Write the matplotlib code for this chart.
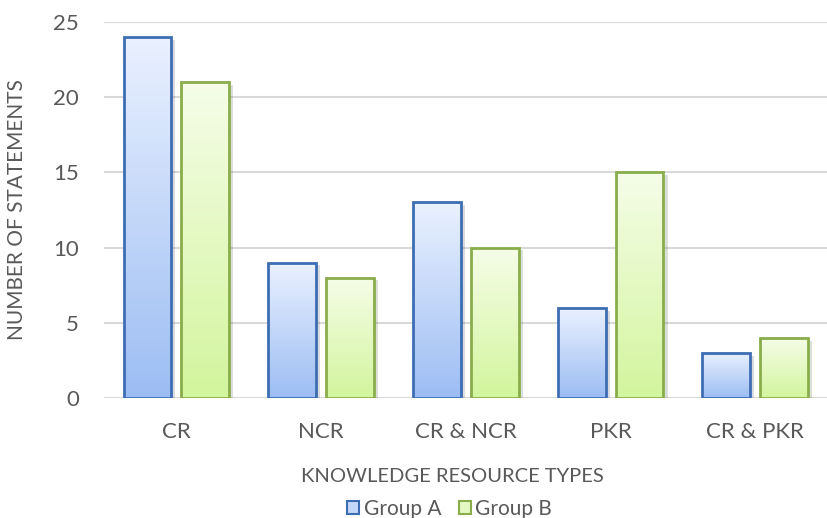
import numpy as np
from matplotlib import pyplot as plt
from matplotlib import patheffects as pe
from matplotlib.patches import Patch
from matplotlib.colors import LinearSegmentedColormap

categories = ["CR", "NCR", "CR & NCR", "PKR", "CR & PKR"]
group_a = [24, 9, 13, 6, 3]
group_b = [21, 8, 10, 15, 4]
series_names = ["Group A", "Group B"]

plt.rcParams['font.family'] = ['Lato', 'DejaVu Sans']

fig = plt.figure(figsize=(8.28, 5.18), dpi=100)
ax = fig.add_axes([0.1256, 0.2317, 0.874, 0.7258])

x = np.arange(len(categories))
w = 0.33
off = 0.2

styles = [
    # top colour, bottom colour, edge
    ("#eaf1ff", "#9cbdf3", "#3d6db3"),
    ("#f5fde8", "#d3f59d", "#8aad4c"),
]

grad = np.linspace(0, 1, 256).reshape(-1, 1)
for vals, (top, bot, edge), dx in zip([group_a, group_b], styles, [-off, off]):
    cmap = LinearSegmentedColormap.from_list("g", [top, bot])
    bars = ax.bar(x + dx, vals, w, color=bot, zorder=2,
                  path_effects=[pe.SimplePatchShadow(offset=(3, -2), alpha=0.18), pe.Normal()])
    for b in bars:
        x0, y0 = b.get_x(), b.get_y()
        im = ax.imshow(grad, cmap=cmap, aspect='auto', zorder=3,
                       extent=[x0, x0 + b.get_width(), y0, y0 + b.get_height()],
                       interpolation='bilinear')
        im.set_clip_path(b)
    ax.bar(x + dx, vals, w, facecolor='none', edgecolor=edge, linewidth=2, zorder=4)

ax.set_xlim(-0.5, len(categories) - 0.5)
ax.set_ylim(0, 25)
ax.set_yticks([0, 5, 10, 15, 20, 25])
ax.set_xticks(x)
ax.set_xticklabels(categories)
ax.grid(axis='y', color='#d9d9d9', linewidth=1.5, zorder=0)
ax.set_axisbelow(True)
for s in ax.spines.values():
    s.set_visible(False)
ax.tick_params(axis='y', length=0, labelsize=16, colors='#595959', pad=18)
ax.tick_params(axis='x', length=0, labelsize=16, colors='#595959', pad=17)
ax.set_ylabel("NUMBER OF STATEMENTS", fontsize=15, color='#595959', va='center')
ax.yaxis.set_label_coords(-0.12, 0.5)

fig.text(0.546, 1 - 477 / 518, "KNOWLEDGE RESOURCE TYPES", ha='center', va='center',
         fontsize=14.5, color='#595959')

handles = [Patch(facecolor=c, edgecolor=s[2], linewidth=1.5)
           for c, s in zip(["#c4d8fa", "#e4f8c3"], styles)]
fig.legend(handles, series_names, loc='center', bbox_to_anchor=(0.543, 1 - 509 / 518),
           ncol=2, frameon=False, fontsize=15, labelcolor='#595959',
           handlelength=0.6, handleheight=0.6, handletextpad=0.2, columnspacing=0.85,
           borderpad=0, borderaxespad=0)

fig.savefig("out.png", dpi=100)
